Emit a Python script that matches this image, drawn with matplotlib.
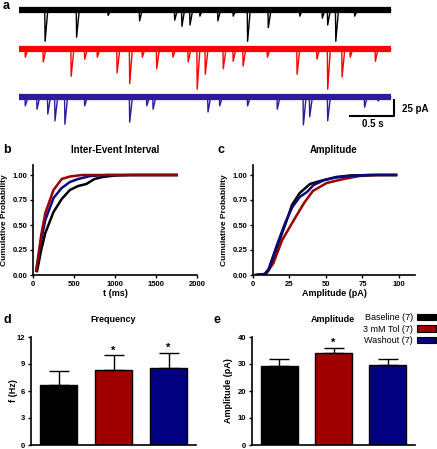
import matplotlib
matplotlib.use('Agg')
import matplotlib.pyplot as plt
from matplotlib.patches import Patch
import numpy as np

plt.rcParams['font.family'] = ['Liberation Sans', 'DejaVu Sans']
plt.rcParams['font.weight'] = 'bold'
plt.rcParams['axes.labelweight'] = 'bold'

W, H = 437, 449
fig = plt.figure(figsize=(W / 100, H / 100), dpi=100)


def px_axes(l, t, r, b):
    return fig.add_axes([l / W, 1 - b / H, (r - l) / W, (b - t) / H])


def fx(x):
    return x / W


def fy(y):
    return 1 - y / H


# ---------------- data ----------------
# panel a: event times (s) and amplitudes (pA)
trace_end = 4.13
black_t = [0.29, 0.64, 0.99, 1.34, 1.73, 1.81, 1.90, 2.01, 2.21, 2.38, 2.54, 2.77, 3.12, 3.37, 3.43, 3.52, 3.73]
black_a = [46, 40, 8, 16, 15, 24, 22, 9, 16, 9, 46, 26, 9, 12, 22, 46, 9]
red_t = [0.07, 0.27, 0.58, 0.73, 0.87, 1.09, 1.23, 1.37, 1.53, 1.71, 1.88, 1.98, 2.07, 2.27, 2.38, 2.49,
         2.76, 3.09, 3.31, 3.43, 3.59, 3.68, 3.96]
red_a = [12, 19, 40, 15, 12, 35, 51, 12, 29, 12, 19, 59, 37, 29, 18, 25, 12, 37, 15, 59, 41, 12, 18]
blue_t = [0.07, 0.20, 0.32, 0.40, 0.51, 0.73, 1.23, 1.42, 1.49, 2.10, 2.23, 2.54, 2.87, 3.16, 3.23, 3.43,
          3.84, 3.99]
blue_a = [13, 18, 25, 35, 40, 13, 37, 13, 18, 22, 13, 13, 18, 41, 29, 35, 15, 6]

# panel b: inter-event interval CDFs (ms, cumulative probability)
iei_black_x = [50, 100, 150, 250, 350, 450, 550, 650, 750, 850, 1000, 1200, 1750]
iei_black_y = [0.04, 0.25, 0.42, 0.63, 0.76, 0.85, 0.89, 0.91, 0.96, 0.98, 0.995, 1.0, 1.0]
iei_red_x = [40, 100, 150, 250, 350, 450, 600, 800, 1750]
iei_red_y = [0.05, 0.40, 0.62, 0.85, 0.96, 0.985, 1.0, 1.0, 1.0]
iei_blue_x = [40, 100, 150, 250, 350, 450, 550, 700, 900, 1750]
iei_blue_y = [0.04, 0.35, 0.55, 0.77, 0.87, 0.93, 0.96, 0.99, 1.0, 1.0]

# panel c: amplitude CDFs (pA, cumulative probability)
amp_black_x = [2, 8, 10.7, 16.4, 22, 26.7, 32, 39, 46, 57, 66.5, 80, 98]
amp_black_y = [0.0, 0.01, 0.05, 0.28, 0.50, 0.70, 0.82, 0.91, 0.94, 0.98, 0.995, 1.0, 1.0]
amp_blue_x = [2, 8, 10.7, 16.4, 22, 27, 32, 37, 41.5, 49, 57, 66, 80, 98]
amp_blue_y = [0.0, 0.01, 0.06, 0.30, 0.52, 0.68, 0.78, 0.83, 0.90, 0.95, 0.975, 0.99, 1.0, 1.0]
amp_red_x = [2, 9, 14, 20, 28, 35, 41, 50.5, 62, 73, 85, 98]
amp_red_y = [0.0, 0.01, 0.12, 0.35, 0.55, 0.72, 0.84, 0.92, 0.96, 0.99, 1.0, 1.0]

# panels d, e: means and upper error
groups = ['Baseline (7)', '3 mM Tol (7)', 'Washout (7)']
freq_mean = [6.7, 8.35, 8.6]
freq_err = [1.5, 1.6, 1.65]
freq_sig = [False, True, True]
amp_mean = [29.2, 33.9, 29.8]
amp_err = [2.5, 2.1, 2.1]
amp_sig = [False, True, False]

trace_colors = ['#000000', '#ff0000', '#2e1a9b']
cdf_colors = ['#000000', '#990000', '#0a0a80']
bar_colors = ['#000000', '#a00000', '#000080']

# ---------------- panel a ----------------
axa = px_axes(19, 0, 437, 135)
axa.set_xlim(0, 418 / 90)
axa.set_ylim(-135 / 0.68, 0)
axa.axis('off')

bases = [-10 / 0.68, -49 / 0.68, -97 / 0.68]
for (ts, amps), base, col in zip([(black_t, black_a), (red_t, red_a), (blue_t, blue_a)], bases, trace_colors):
    xs = [0.0]
    ys = [base]
    for t, a in zip(ts, amps):
        xs += [t - 0.004, t, t + 0.03]
        ys += [base, base - a, base]
    xs.append(trace_end)
    ys.append(base)
    axa.plot([0, trace_end], [base, base], color=col, lw=4.5, solid_capstyle='butt')
    axa.plot(xs, ys, color=col, lw=1.0)

# scale bar: 0.5 s, 25 pA
sb_x = (394 - 19) / 90
sb_y = -116 / 0.68
axa.plot([sb_x - 0.5, sb_x, sb_x], [sb_y, sb_y, sb_y + 25], color='black', lw=1.5, solid_capstyle='butt')
fig.text(fx(402), fy(109), '25 pA', fontsize=7, ha='left', va='center')
fig.text(fx(373), fy(124), '0.5 s', fontsize=7, ha='center', va='center')


def style(ax):
    for s in ['top', 'right']:
        ax.spines[s].set_visible(False)
    for s in ['left', 'bottom']:
        ax.spines[s].set_linewidth(1.2)
    ax.tick_params(labelsize=5.5, length=2.5, width=1, pad=1.5)
    for lab in ax.get_xticklabels() + ax.get_yticklabels():
        lab.set_fontweight('bold')


# ---------------- panel b ----------------
axb = px_axes(33, 165, 197, 275)
for x, y, c in [(iei_black_x, iei_black_y, cdf_colors[0]), (iei_blue_x, iei_blue_y, cdf_colors[2]),
                (iei_red_x, iei_red_y, cdf_colors[1])]:
    axb.plot(x, y, color=c, lw=1.8)
axb.set_xlim(0, 2000)
axb.set_ylim(0, 1.1)
axb.set_xticks([0, 500, 1000, 1500, 2000])
axb.set_yticks([0, 0.25, 0.5, 0.75, 1.0])
axb.set_yticklabels(['0.00', '0.25', '0.50', '0.75', '1.00'])
axb.set_xlabel('t (ms)', fontsize=6.5)
axb.set_ylabel('Cumulative Probability', fontsize=6)
axb.yaxis.set_label_coords(-0.152, 0.5)
axb.xaxis.set_label_coords(0.5, -0.125)
style(axb)

# ---------------- panel c ----------------
axc = px_axes(253, 165, 415, 275)
for x, y, c in [(amp_red_x, amp_red_y, cdf_colors[1]), (amp_black_x, amp_black_y, cdf_colors[0]),
                (amp_blue_x, amp_blue_y, cdf_colors[2])]:
    axc.plot(x, y, color=c, lw=1.8)
axc.set_xlim(0, 111)
axc.set_ylim(0, 1.1)
axc.set_xticks([0, 25, 50, 75, 100])
axc.set_yticks([0, 0.25, 0.5, 0.75, 1.0])
axc.set_yticklabels(['0.00', '0.25', '0.50', '0.75', '1.00'])
axc.set_xlabel('Amplitude (pA)', fontsize=6.5)
axc.set_ylabel('Cumulative Probability', fontsize=6)
axc.yaxis.set_label_coords(-0.154, 0.5)
axc.xaxis.set_label_coords(0.5, -0.125)
style(axc)


def bars(ax, means, errs, sig, top, step, ylabel, star_pad):
    pos = np.arange(len(means))
    ax.bar(pos, means, width=0.68, color=bar_colors, edgecolor='black', linewidth=1)
    ax.errorbar(pos, means, yerr=[np.zeros(len(errs)), errs], fmt='none', ecolor='black',
                elinewidth=1, capsize=7, capthick=1)
    for p, m, e, s in zip(pos, means, errs, sig):
        if s:
            ax.text(p, m + e + star_pad, '*', ha='center', va='center', fontsize=8)
    ax.set_xlim(-0.5, 2.5)
    ax.set_ylim(0, top)
    ax.set_yticks(np.arange(0, top + 0.01, step))
    ax.set_xticks([])
    ax.set_ylabel(ylabel, fontsize=6.5)
    style(ax)


# ---------------- panel d ----------------
axd = px_axes(31, 337, 196, 445)
bars(axd, freq_mean, freq_err, freq_sig, 12, 3, 'f (Hz)', 0.5)
axd.yaxis.set_label_coords(-0.079, 0.5)

# ---------------- panel e ----------------
axe = px_axes(252, 337, 415, 445)
bars(axe, amp_mean, amp_err, amp_sig, 40, 10, 'Amplitude (pA)', 1.8)
axe.yaxis.set_label_coords(-0.117, 0.5)

handles = [Patch(facecolor=c, edgecolor='black', linewidth=0.8) for c in bar_colors]
fig.legend(handles, groups, loc='upper right', bbox_to_anchor=(fx(436), fy(313)), frameon=False,
           markerfirst=False, prop={'size': 6.5, 'weight': 'normal'}, handlelength=2.1,
           handleheight=0.7, handletextpad=0.45, labelspacing=0.3, borderpad=0, borderaxespad=0)

# titles and panel letters
fig.text(fx(115), fy(150), 'Inter-Event Interval', fontsize=7, ha='center', va='center')
fig.text(fx(334), fy(150), 'Amplitude', fontsize=7, ha='center', va='center')
fig.text(fx(113), fy(320), 'Frequency', fontsize=6.5, ha='center', va='center')
fig.text(fx(333), fy(320), 'Amplitude', fontsize=6.5, ha='center', va='center')
for lx, ly, s in [(3, 6, 'a'), (3, 150, 'b'), (218, 150, 'c'), (3, 320, 'd'), (214, 320, 'e')]:
    fig.text(fx(lx), fy(ly), s, fontsize=9, ha='left', va='center')

fig.savefig('out.png', dpi=100)
